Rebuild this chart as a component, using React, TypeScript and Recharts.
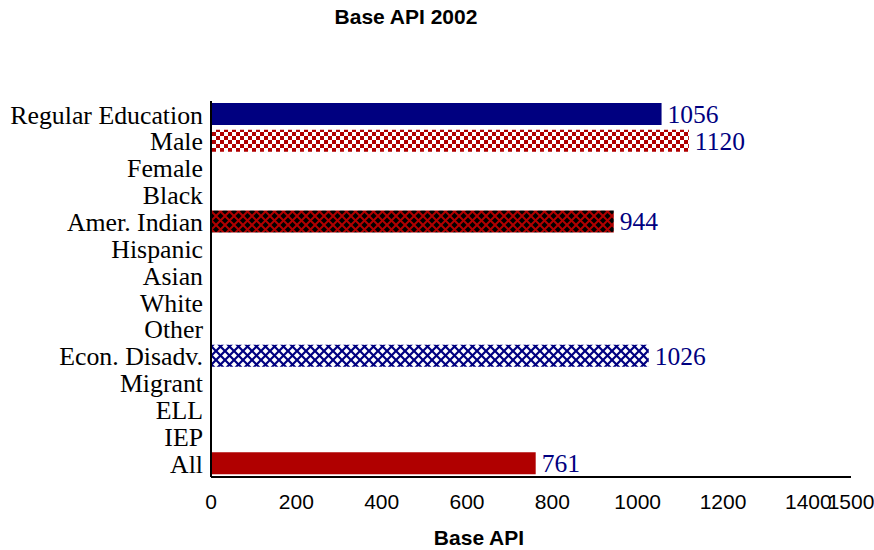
import React from 'react';
import { BarChart, Bar, XAxis, YAxis, Cell, LabelList } from 'recharts';

const categories = [
  'Regular Education', 'Male', 'Female', 'Black', 'Amer. Indian', 'Hispanic', 'Asian',
  'White', 'Other', 'Econ. Disadv.', 'Migrant', 'ELL', 'IEP', 'All',
];
const baseApi: (number | null)[] = [1056, 1120, null, null, 944, null, null, null, null, 1026, null, null, null, 761];
const xTicks = [0, 200, 400, 600, 800, 1000, 1200, 1400, 1500];

// fill per category (patterns are defined in <defs> below)
const fills: Record<string, string> = {
  'Regular Education': '#000080',
  'Male': 'url(#checkRed)',
  'Amer. Indian': 'url(#hatchBlackRed)',
  'Econ. Disadv.': 'url(#hatchNavy)',
  'All': '#B00000',
};

const data = categories.map((name, i) => ({ name, value: baseApi[i] }));

const SERIF = '"Liberation Serif", "Times New Roman", serif';
const SANS = '"Liberation Sans", Arial, sans-serif';

const ValueLabel = (props: any) => {
  const { x, y, width, height, value } = props;
  if (value == null) return null;
  return (
    <text x={x + width + 6} y={y + height / 2 + 9} fill="#000080" fontFamily={SERIF} fontSize={25.5}>
      {value}
    </text>
  );
};

export default function App() {
  return (
    <div style={{ position: 'relative', width: 874, height: 550, background: '#fff' }}>
      <style>{`body { margin: 0; }`}</style>
      <div style={{ position: 'absolute', left: 0, width: 812, top: 5, textAlign: 'center', fontFamily: SANS, fontWeight: 'bold', fontSize: 21 }}>
        Base API 2002
      </div>
      <BarChart
        width={874}
        height={550}
        data={data}
        layout="vertical"
        margin={{ top: 101, right: 23, bottom: 0, left: 0 }}
      >
        <defs>
          <pattern id="checkRed" width={8} height={8} patternUnits="userSpaceOnUse">
            <rect width={8} height={8} fill="#fff" />
            <rect x={0} y={0} width={4} height={4} fill="#B00000" />
            <rect x={4} y={4} width={4} height={4} fill="#B00000" />
          </pattern>
          <pattern id="hatchBlackRed" width={9} height={9} patternUnits="userSpaceOnUse">
            <rect width={9} height={9} fill="#000" />
            <path d="M0,0 L9,9 M9,0 L0,9" stroke="#B00000" strokeWidth={2} />
          </pattern>
          <pattern id="hatchNavy" width={9} height={9} patternUnits="userSpaceOnUse">
            <rect width={9} height={9} fill="#fff" />
            <path d="M0,0 L9,9 M9,0 L0,9" stroke="#000080" strokeWidth={2.2} />
          </pattern>
        </defs>
        <XAxis
          type="number"
          domain={[0, 1500]}
          ticks={xTicks}
          interval={0}
          height={73}
          tickLine={false}
          tickSize={6}
          tickMargin={11}
          axisLine={{ stroke: '#000', strokeWidth: 2 }}
          tick={{ fill: '#000', fontFamily: SANS, fontSize: 21 }}
        />
        <YAxis
          type="category"
          dataKey="name"
          width={211}
          interval={0}
          tickLine={false}
          axisLine={{ stroke: '#000', strokeWidth: 2 }}
          tick={{ fill: '#000', fontFamily: SERIF, fontSize: 25.8 }}
        />
        <Bar dataKey="value" barSize={22} isAnimationActive={false}>
          {data.map((d) => (
            <Cell key={d.name} fill={fills[d.name] || '#fff'} />
          ))}
          <LabelList dataKey="value" content={<ValueLabel />} />
        </Bar>
      </BarChart>
      <div style={{ position: 'absolute', left: 379, width: 200, top: 526, textAlign: 'center', fontFamily: SANS, fontWeight: 'bold', fontSize: 21 }}>
        Base API
      </div>
    </div>
  );
}
